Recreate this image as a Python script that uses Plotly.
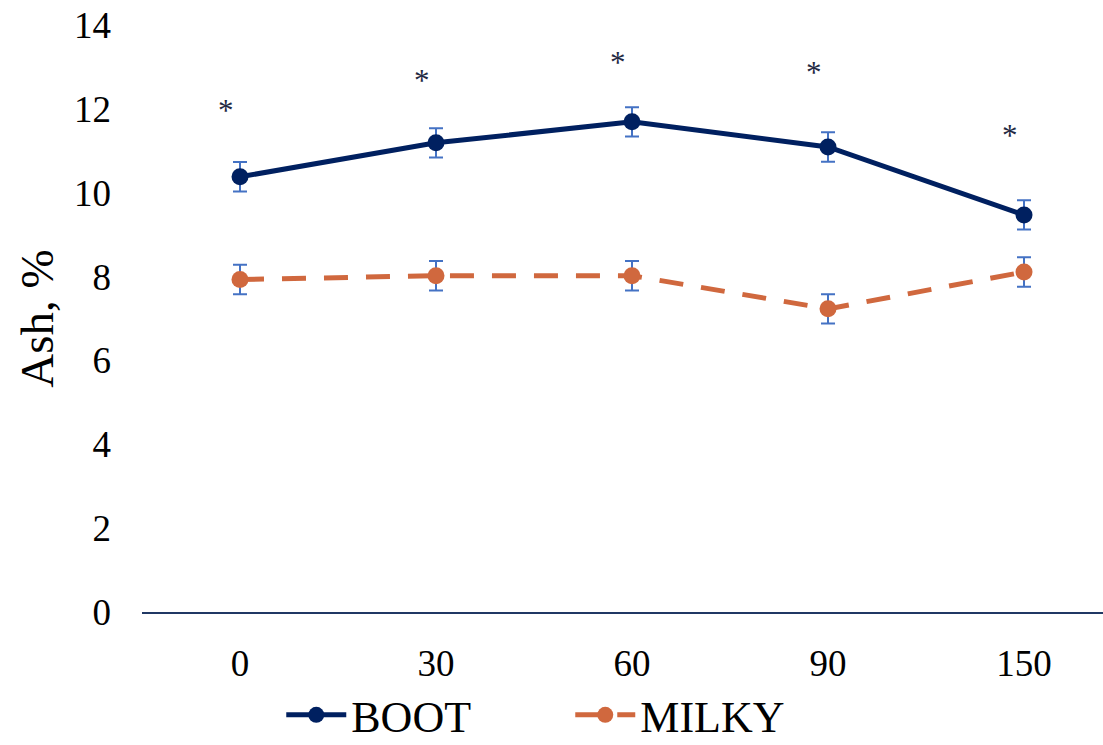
import plotly.graph_objects as go

categories = ["0", "30", "60", "90", "150"]
boot = [10.38, 11.19, 11.69, 11.09, 9.47]
milky = [7.93, 8.02, 8.02, 7.23, 8.11]
boot_err = [0.35, 0.35, 0.35, 0.35, 0.35]
milky_err = [0.35, 0.35, 0.35, 0.35, 0.35]
star_y = [11.95, 12.67, 13.1, 12.86, 11.36]
y_ticks = [0, 2, 4, 6, 8, 10, 12, 14]

FONT = "Liberation Serif, Times New Roman, serif"
BOOT_C = "#002060"
MILKY_C = "#D0683E"
ERR_C = "#4472C4"

fig = go.Figure()
fig.add_trace(go.Scatter(
    x=categories, y=boot, name="BOOT", mode="lines+markers",
    line=dict(color=BOOT_C, width=5),
    marker=dict(color=BOOT_C, size=17),
    error_y=dict(type="data", array=boot_err, color=ERR_C, thickness=2, width=7),
))
fig.add_trace(go.Scatter(
    x=categories, y=milky, name="MILKY", mode="lines+markers",
    line=dict(color=MILKY_C, width=5, dash="24px,18px"),
    marker=dict(color=MILKY_C, size=17),
    error_y=dict(type="data", array=milky_err, color=ERR_C, thickness=2, width=7),
))

for i, sy in enumerate(star_y):
    fig.add_annotation(x=i, y=sy, xref="x", yref="y", text="*", showarrow=False, xshift=-14,
                       font=dict(family=FONT, size=31, color="#1F2A44"))

fig.update_layout(
    width=1103, height=745,
    margin=dict(l=142, r=0, t=25, b=133),
    paper_bgcolor="white", plot_bgcolor="white",
    font=dict(family=FONT, color="black"),
    showlegend=True,
    legend=dict(orientation="h", xref="container", yref="container",
                xanchor="left", x=0.255, yanchor="middle", y=0.04,
                font=dict(family=FONT, size=44), itemwidth=60,
                entrywidth=214, entrywidthmode="pixels",
                bgcolor="rgba(0,0,0,0)"),
)
fig.update_xaxes(type="category", range=[-0.5, 4.403], showgrid=False, automargin=False,
                 showline=True, linecolor="#203864", linewidth=2,
                 ticks="", tickfont=dict(family=FONT, size=37, color="black"),
                 ticklabelstandoff=18, zeroline=False)
fig.update_yaxes(range=[0, 14], tickvals=y_ticks, showgrid=False, showline=False, automargin=False,
                 zeroline=False, ticks="", tickfont=dict(family=FONT, size=37, color="black"),
                 ticklabelstandoff=30,
                 title=dict(text="Ash, %", font=dict(family=FONT, size=47, color="black"), standoff=5))

fig.write_html("out.html", config={"displayModeBar": False},
               post_script="document.body.style.margin='0';")
